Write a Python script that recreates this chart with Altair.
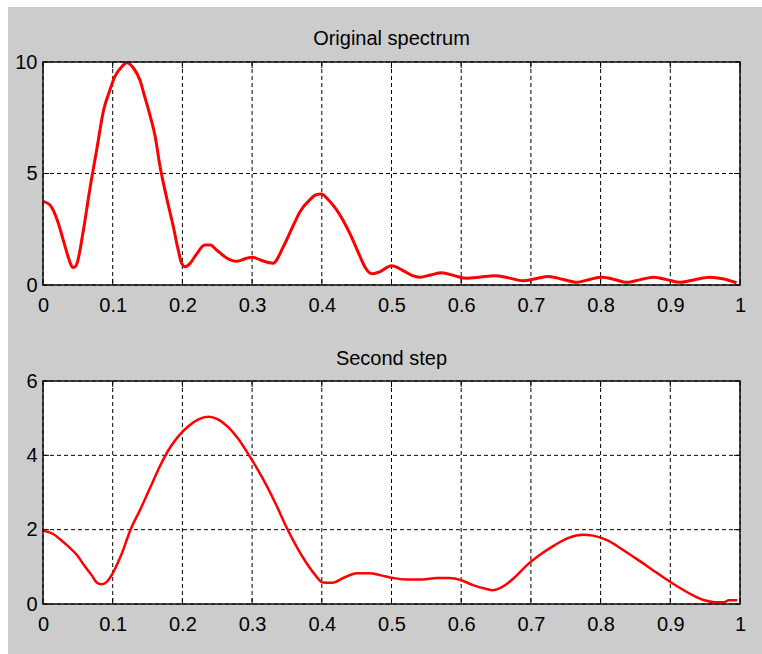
import altair as alt
import pandas as pd

# ---- data ----
titles = ["Original spectrum", "Second step"]
x_ticks = [0, 0.1, 0.2, 0.3, 0.4, 0.5, 0.6, 0.7, 0.8, 0.9, 1]
top_y_ticks = [0, 5, 10]
bot_y_ticks = [0, 2, 4, 6]

top_x = [0.000, 0.010, 0.022, 0.029, 0.036, 0.041, 0.044, 0.048, 0.058, 0.067,
         0.077, 0.087, 0.096, 0.103, 0.113, 0.120, 0.130, 0.139, 0.146, 0.154,
         0.161, 0.168, 0.177, 0.187, 0.194, 0.199, 0.204, 0.211, 0.221, 0.232,
         0.240, 0.249, 0.264, 0.278, 0.292, 0.300, 0.312, 0.330, 0.345, 0.358,
         0.369, 0.383, 0.392, 0.399, 0.410, 0.421, 0.440, 0.455, 0.463, 0.472,
         0.482, 0.500, 0.518, 0.530, 0.541, 0.556, 0.572, 0.590, 0.608, 0.628,
         0.648, 0.668, 0.689, 0.707, 0.725, 0.745, 0.766, 0.784, 0.802, 0.820,
         0.837, 0.857, 0.876, 0.895, 0.914, 0.935, 0.957, 0.975, 0.995]
top_y = [3.75, 3.59, 2.77, 2.02, 1.27, 0.85, 0.78, 0.90, 2.47, 4.26,
         6.05, 7.85, 8.74, 9.34, 9.79, 9.97, 9.72, 9.19, 8.44, 7.55,
         6.65, 5.30, 3.96, 2.61, 1.57, 0.97, 0.82, 0.97, 1.42, 1.79,
         1.79, 1.57, 1.20, 1.06, 1.20, 1.25, 1.12, 0.98, 1.73, 2.60,
         3.30, 3.83, 4.05, 4.08, 3.80, 3.38, 2.33, 1.27, 0.75, 0.50,
         0.58, 0.86, 0.62, 0.42, 0.35, 0.45, 0.55, 0.42, 0.30, 0.36,
         0.42, 0.32, 0.19, 0.28, 0.38, 0.26, 0.12, 0.25, 0.35, 0.25,
         0.12, 0.24, 0.35, 0.24, 0.12, 0.24, 0.35, 0.28, 0.10]

bot_x = [0.000, 0.014, 0.024, 0.035, 0.049, 0.059, 0.070, 0.077, 0.084, 0.091,
         0.101, 0.112, 0.126, 0.140, 0.154, 0.167, 0.181, 0.195, 0.209, 0.223,
         0.237, 0.251, 0.265, 0.279, 0.293, 0.307, 0.321, 0.335, 0.349, 0.363,
         0.377, 0.391, 0.401, 0.415, 0.433, 0.450, 0.468, 0.485, 0.502, 0.520,
         0.544, 0.565, 0.583, 0.600, 0.618, 0.635, 0.645, 0.659, 0.677, 0.694,
         0.712, 0.733, 0.754, 0.775, 0.789, 0.810, 0.830, 0.851, 0.872, 0.893,
         0.914, 0.935, 0.949, 0.963, 0.977, 0.984, 0.996]
bot_y = [1.98, 1.89, 1.75, 1.57, 1.31, 1.04, 0.77, 0.58, 0.53, 0.59,
         0.86, 1.31, 2.02, 2.56, 3.14, 3.68, 4.17, 4.53, 4.79, 4.97,
         5.04, 4.97, 4.77, 4.47, 4.08, 3.65, 3.18, 2.65, 2.08, 1.57,
         1.13, 0.77, 0.58, 0.57, 0.72, 0.83, 0.83, 0.77, 0.70, 0.66,
         0.66, 0.70, 0.70, 0.64, 0.50, 0.41, 0.37, 0.46, 0.72, 1.04,
         1.31, 1.57, 1.78, 1.86, 1.84, 1.71, 1.48, 1.22, 0.95, 0.68,
         0.43, 0.21, 0.10, 0.05, 0.05, 0.10, 0.10]

# ---- styling ----
W, H = 697, 223
FONT = "Liberation Sans"
GRAY = "#cccccc"
TICK = 6


def panel(xs, ys, yticks, ymax, title, title_y, gray_top, gray_bottom, lw):
    line_df = pd.DataFrame({"x": xs, "y": ys})
    xt = pd.DataFrame({"x": x_ticks})
    yt = pd.DataFrame({"y": yticks})
    one = pd.DataFrame({"t": [title]})

    xscale = alt.Scale(domain=[0, 1], nice=False, zero=False)
    yscale = alt.Scale(domain=[0, ymax], nice=False, zero=False)
    x_axis = alt.Axis(values=x_ticks, format="~r", grid=False, domain=False,
                      ticks=False, labelPadding=10, labelFont=FONT,
                      labelFontSize=20, labelColor="black", labelFlush=False,
                      labelOverlap=False, zindex=1, title=None)
    y_axis = alt.Axis(values=yticks, format="~r", grid=False, domain=False,
                      ticks=False, labelPadding=6, labelFont=FONT,
                      labelFontSize=20, labelColor="black", labelFlush=False,
                      labelOverlap=False, zindex=1, title=None)
    xe = alt.X("x:Q", scale=xscale, axis=x_axis)
    ye = alt.Y("y:Q", scale=yscale, axis=y_axis)

    base = alt.Chart(one)
    gray = base.mark_rect(color=GRAY).encode(
        x=alt.value(-35), x2=alt.value(W + 22),
        y=alt.value(gray_top), y2=alt.value(gray_bottom))
    white = base.mark_rect(color="white").encode(
        x=alt.value(0), x2=alt.value(W), y=alt.value(0), y2=alt.value(H))
    vgrid = alt.Chart(xt).mark_rule(color="black", strokeWidth=1,
                                    strokeDash=[4, 3]).encode(
        x=xe, y=alt.value(0), y2=alt.value(H))
    hgrid = alt.Chart(yt).mark_rule(color="black", strokeWidth=1,
                                    strokeDash=[4, 3]).encode(
        y=ye, x=alt.value(0), x2=alt.value(W))
    tb = alt.Chart(xt).mark_rule(color="black", strokeWidth=1).encode(
        x=xe, y=alt.value(H), y2=alt.value(H - TICK))
    tt = alt.Chart(xt).mark_rule(color="black", strokeWidth=1).encode(
        x=xe, y=alt.value(0), y2=alt.value(TICK))
    tl = alt.Chart(yt).mark_rule(color="black", strokeWidth=1).encode(
        y=ye, x=alt.value(0), x2=alt.value(TICK))
    tr = alt.Chart(yt).mark_rule(color="black", strokeWidth=1).encode(
        y=ye, x=alt.value(W), x2=alt.value(W - TICK))
    line = alt.Chart(line_df).mark_line(color="#ff0000", strokeWidth=lw,
                                        interpolate="monotone").encode(
        x=xe, y=ye)
    border = base.mark_rect(fillOpacity=0, stroke="#111111",
                            strokeWidth=1.5).encode(
        x=alt.value(0), x2=alt.value(W), y=alt.value(0), y2=alt.value(H))
    ttl = base.mark_text(font=FONT, fontSize=20, color="black",
                         baseline="alphabetic", align="center").encode(
        text="t:N", x=alt.value(W / 2), y=alt.value(title_y))
    return alt.layer(gray, white, vgrid, hgrid, tb, tt, tl, tr, line,
                     border, ttl).properties(width=W, height=H)


top = panel(top_x, top_y, top_y_ticks, 10, titles[0], -17, -55, 268, 3)
bottom = panel(bot_x, bot_y, bot_y_ticks, 6, titles[1], -16, -51, 273, 2.5)

chart = alt.vconcat(top, bottom, spacing=0).properties(
    background="white",
    padding={"left": 8, "top": 7, "right": 0, "bottom": 0},
).configure_view(strokeWidth=0)

chart.save("out.html", embed_options={"renderer": "svg", "actions": False})
